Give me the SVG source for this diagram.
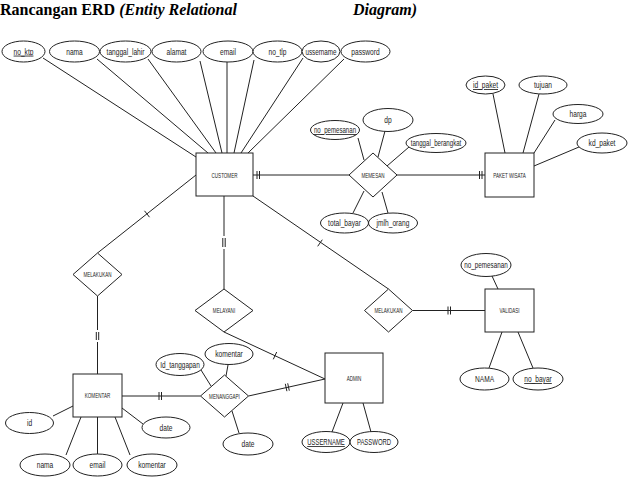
<svg xmlns="http://www.w3.org/2000/svg" width="628" height="480" viewBox="0 0 628 480">
<style>
.e{fill:#fff;stroke:#222;stroke-width:1}
.b{fill:#fff;stroke:#222;stroke-width:1}
.c{stroke:#222;stroke-width:1;fill:none}
.t{font-family:"Liberation Sans",Arial,sans-serif;font-size:8.5px;fill:#222;text-anchor:middle}
.s{font-family:"Liberation Sans",Arial,sans-serif;font-size:7px;fill:#222;text-anchor:middle}
.u{text-decoration:underline}
.h{font-family:"Liberation Serif","Times New Roman",serif;font-size:16px;font-weight:bold;fill:#000}
</style>
<rect width="628" height="480" fill="#fff"/>
<g id="title">
<text class="h" x="0" y="15">Rancangan ERD <tspan font-style="italic">(Entity Relational</tspan></text>
<text class="h" x="353" y="15" font-style="italic">Diagram)</text>
</g>
<g id="connectors">
<line class="c" x1="43" y1="58" x2="196" y2="157"/>
<line class="c" x1="97" y1="59" x2="208" y2="153"/>
<line class="c" x1="148" y1="59" x2="216" y2="153"/>
<line class="c" x1="200" y1="61" x2="222" y2="153"/>
<line class="c" x1="227" y1="62" x2="227" y2="153"/>
<line class="c" x1="254" y1="60" x2="234" y2="153"/>
<line class="c" x1="303" y1="58" x2="241" y2="153"/>
<line class="c" x1="344" y1="59" x2="248" y2="153"/>
<line class="c" x1="253" y1="175" x2="349" y2="175"/>
<line class="c" x1="257" y1="171" x2="257" y2="179"/>
<line class="c" x1="259.5" y1="171" x2="259.5" y2="179"/>
<line class="c" x1="397" y1="175" x2="485" y2="175"/>
<line class="c" x1="479.5" y1="171" x2="479.5" y2="179"/>
<line class="c" x1="482" y1="171" x2="482" y2="179"/>
<line class="c" x1="358" y1="138" x2="364" y2="160"/>
<line class="c" x1="385" y1="131" x2="378" y2="157"/>
<line class="c" x1="409" y1="147" x2="387" y2="166"/>
<line class="c" x1="353" y1="213" x2="364" y2="191"/>
<line class="c" x1="388" y1="213" x2="382" y2="192"/>
<line class="c" x1="493" y1="94" x2="505" y2="153"/>
<line class="c" x1="539" y1="94" x2="523" y2="153"/>
<line class="c" x1="555" y1="120" x2="534" y2="153"/>
<line class="c" x1="579" y1="147" x2="534" y2="166"/>
<line class="c" x1="196" y1="175" x2="97.5" y2="253"/>
<line class="c" x1="144.5" y1="210.8" x2="149.5" y2="217.2"/>
<line class="c" x1="97.5" y1="296" x2="97.5" y2="330"/>
<line class="c" x1="96.3" y1="332" x2="96.3" y2="340"/>
<line class="c" x1="98.7" y1="332" x2="98.7" y2="340"/>
<line class="c" x1="97.5" y1="342" x2="97.5" y2="374"/>
<line class="c" x1="224" y1="196" x2="224" y2="236"/>
<line class="c" x1="222.8" y1="238" x2="222.8" y2="247"/>
<line class="c" x1="225.2" y1="238" x2="225.2" y2="247"/>
<line class="c" x1="224" y1="249" x2="224" y2="289"/>
<line class="c" x1="224" y1="332" x2="325" y2="379"/>
<line class="c" x1="273.3" y1="359.3" x2="276.7" y2="352"/>
<line class="c" x1="253" y1="196" x2="388.5" y2="289"/>
<line class="c" x1="317.7" y1="246.3" x2="322.3" y2="239.7"/>
<line class="c" x1="412.5" y1="310.5" x2="485" y2="310.5"/>
<line class="c" x1="448" y1="306.5" x2="448" y2="314.5"/>
<line class="c" x1="450.5" y1="306.5" x2="450.5" y2="314.5"/>
<line class="c" x1="492" y1="276" x2="498" y2="289"/>
<line class="c" x1="489" y1="368" x2="502" y2="332"/>
<line class="c" x1="533" y1="368" x2="518" y2="332"/>
<line class="c" x1="122" y1="396" x2="200.5" y2="396"/>
<line class="c" x1="159" y1="392" x2="159" y2="400"/>
<line class="c" x1="161.5" y1="392" x2="161.5" y2="400"/>
<line class="c" x1="248.5" y1="396" x2="325" y2="379"/>
<line class="c" x1="285.3" y1="383.8" x2="286.9" y2="391.2"/>
<line class="c" x1="287.7" y1="383.3" x2="289.3" y2="390.7"/>
<line class="c" x1="201" y1="370" x2="211" y2="386"/>
<line class="c" x1="228" y1="365" x2="226" y2="376"/>
<line class="c" x1="239" y1="433" x2="232" y2="411"/>
<line class="c" x1="53" y1="416" x2="73" y2="406"/>
<line class="c" x1="143" y1="424" x2="122" y2="408"/>
<line class="c" x1="66" y1="455" x2="81" y2="417"/>
<line class="c" x1="97.5" y1="454" x2="97.5" y2="417"/>
<line class="c" x1="130" y1="455" x2="115" y2="417"/>
<line class="c" x1="332" y1="432" x2="343" y2="403"/>
<line class="c" x1="371" y1="432" x2="363" y2="403"/>
</g>
<g id="no_ktp"><ellipse class="e" cx="23.5" cy="51.5" rx="21.5" ry="10.5"/><text class="t u" transform="translate(23.5 54.5) scale(0.78 1)">no_ktp</text></g>
<g id="nama"><ellipse class="e" cx="74.5" cy="51.5" rx="25" ry="10.5"/><text class="t" transform="translate(74.5 54.5) scale(0.78 1)">nama</text></g>
<g id="tanggal_lahir"><ellipse class="e" cx="125.5" cy="51.5" rx="25.5" ry="10.5"/><text class="t" transform="translate(125.5 54.5) scale(0.78 1)">tanggal_lahir</text></g>
<g id="alamat"><ellipse class="e" cx="176.5" cy="51.5" rx="24.5" ry="10.5"/><text class="t" transform="translate(176.5 54.5) scale(0.78 1)">alamat</text></g>
<g id="email"><ellipse class="e" cx="228" cy="51.5" rx="25" ry="10.5"/><text class="t" transform="translate(228 54.5) scale(0.78 1)">email</text></g>
<g id="no_tlp"><ellipse class="e" cx="277.5" cy="51.5" rx="24.5" ry="10.5"/><text class="t" transform="translate(277.5 54.5) scale(0.78 1)">no_tlp</text></g>
<g id="ussername"><ellipse class="e" cx="321" cy="51.5" rx="19" ry="10.5"/><text class="t" transform="translate(321 54.5) scale(0.74 1)">ussername</text></g>
<g id="password"><ellipse class="e" cx="365.5" cy="51.5" rx="24.5" ry="10.5"/><text class="t" transform="translate(365.5 54.5) scale(0.78 1)">password</text></g>
<g id="customer"><rect class="b" x="196" y="153" width="57" height="43"/><text class="s" transform="translate(224.5 177.5) scale(0.65 1)">CUSTOMER</text></g>
<g id="memesan"><polygon class="b" points="373,153 397,175 373,197 349,175"/><text class="s" transform="translate(373 177.5) scale(0.65 1)">MEMESAN</text></g>
<g id="no_pemesanan_1"><ellipse class="e" cx="335" cy="130" rx="24.5" ry="9.5"/><text class="t u" transform="translate(335 133) scale(0.72 1)">no_pemesanan</text></g>
<g id="dp"><ellipse class="e" cx="388" cy="120" rx="25" ry="11.5"/><text class="t" transform="translate(388 123) scale(0.78 1)">dp</text></g>
<g id="tanggal_berangkat"><ellipse class="e" cx="436" cy="143" rx="30" ry="9.5"/><text class="t" transform="translate(436 146) scale(0.72 1)">tanggal_berangkat</text></g>
<g id="total_bayar"><ellipse class="e" cx="344.5" cy="223" rx="24" ry="10"/><text class="t" transform="translate(344.5 226) scale(0.78 1)">total_bayar</text></g>
<g id="jmlh_orang"><ellipse class="e" cx="393" cy="223" rx="24.5" ry="10"/><text class="t" transform="translate(393 226) scale(0.78 1)">jmlh_orang</text></g>
<g id="paket_wisata"><rect class="b" x="485" y="153" width="49" height="44"/><text class="s" transform="translate(509.5 177.5) scale(0.65 1)">PAKET WISATA</text></g>
<g id="id_paket"><ellipse class="e" cx="485.5" cy="85" rx="19.5" ry="9"/><text class="t u" transform="translate(485.5 88) scale(0.78 1)">id_paket</text></g>
<g id="tujuan"><ellipse class="e" cx="543" cy="85" rx="24" ry="9"/><text class="t" transform="translate(543 88) scale(0.78 1)">tujuan</text></g>
<g id="harga"><ellipse class="e" cx="578" cy="114" rx="25" ry="9.5"/><text class="t" transform="translate(578 117) scale(0.78 1)">harga</text></g>
<g id="kd_paket"><ellipse class="e" cx="602" cy="143" rx="25" ry="10"/><text class="t" transform="translate(602 146) scale(0.78 1)">kd_paket</text></g>
<g id="melakukan_1"><polygon class="b" points="97.5,253 122,274.5 97.5,296 73,274.5"/><text class="s" transform="translate(97.5 277) scale(0.65 1)">MELAKUKAN</text></g>
<g id="melayani"><polygon class="b" points="224,289 253,310.5 224,332 195,310.5"/><text class="s" transform="translate(224 313) scale(0.65 1)">MELAYANI</text></g>
<g id="melakukan_2"><polygon class="b" points="388.5,289 412.5,310.5 388.5,332 364.5,310.5"/><text class="s" transform="translate(388.5 313) scale(0.65 1)">MELAKUKAN</text></g>
<g id="validasi"><rect class="b" x="485" y="289" width="49" height="43"/><text class="s" transform="translate(509.5 313) scale(0.65 1)">VALIDASI</text></g>
<g id="no_pemesanan_2"><ellipse class="e" cx="486" cy="265" rx="25" ry="11.5"/><text class="t" transform="translate(486 268) scale(0.74 1)">no_pemesanan</text></g>
<g id="nama_validasi"><ellipse class="e" cx="484.5" cy="379" rx="24.5" ry="11"/><text class="t" transform="translate(484.5 382) scale(0.78 1)">NAMA</text></g>
<g id="no_bayar"><ellipse class="e" cx="538" cy="379" rx="25" ry="11"/><text class="t u" transform="translate(538 382) scale(0.78 1)">no_bayar</text></g>
<g id="komentar_entity"><rect class="b" x="73" y="374" width="49" height="43"/><text class="s" transform="translate(97.5 398) scale(0.65 1)">KOMENTAR</text></g>
<g id="menanggapi"><polygon class="b" points="224.5,375 248.5,396 224.5,417 200.5,396"/><text class="s" transform="translate(224.5 398.5) scale(0.65 1)">MENANGGAPI</text></g>
<g id="admin"><rect class="b" x="325" y="353" width="58" height="50"/><text class="s" transform="translate(354 380.5) scale(0.65 1)">ADMIN</text></g>
<g id="id_tanggapan"><ellipse class="e" cx="180" cy="364.5" rx="24" ry="11"/><text class="t" transform="translate(180 367.5) scale(0.76 1)">Id_tanggapan</text></g>
<g id="komentar_menanggapi"><ellipse class="e" cx="229" cy="354" rx="24" ry="10.5"/><text class="t" transform="translate(229 357) scale(0.78 1)">komentar</text></g>
<g id="date_menanggapi"><ellipse class="e" cx="248" cy="444" rx="25" ry="11"/><text class="t" transform="translate(248 447) scale(0.78 1)">date</text></g>
<g id="ussername_admin"><ellipse class="e" cx="326" cy="442" rx="24" ry="10.5"/><text class="t u" transform="translate(326 445) scale(0.7 1)">USSERNAME</text></g>
<g id="password_admin"><ellipse class="e" cx="374" cy="442" rx="24" ry="10.5"/><text class="t" transform="translate(374 445) scale(0.7 1)">PASSWORD</text></g>
<g id="id_komentar"><ellipse class="e" cx="29.5" cy="423" rx="24" ry="10.5"/><text class="t" transform="translate(29.5 426) scale(0.78 1)">id</text></g>
<g id="date_komentar"><ellipse class="e" cx="166" cy="427.5" rx="24" ry="10.5"/><text class="t" transform="translate(166 430.5) scale(0.78 1)">date</text></g>
<g id="nama_komentar"><ellipse class="e" cx="45" cy="465" rx="25" ry="11"/><text class="t" transform="translate(45 468) scale(0.78 1)">nama</text></g>
<g id="email_komentar"><ellipse class="e" cx="97.5" cy="465" rx="24.5" ry="11"/><text class="t" transform="translate(97.5 468) scale(0.78 1)">email</text></g>
<g id="komentar_attr"><ellipse class="e" cx="152" cy="465" rx="25" ry="11"/><text class="t" transform="translate(152 468) scale(0.78 1)">komentar</text></g>
</svg>
